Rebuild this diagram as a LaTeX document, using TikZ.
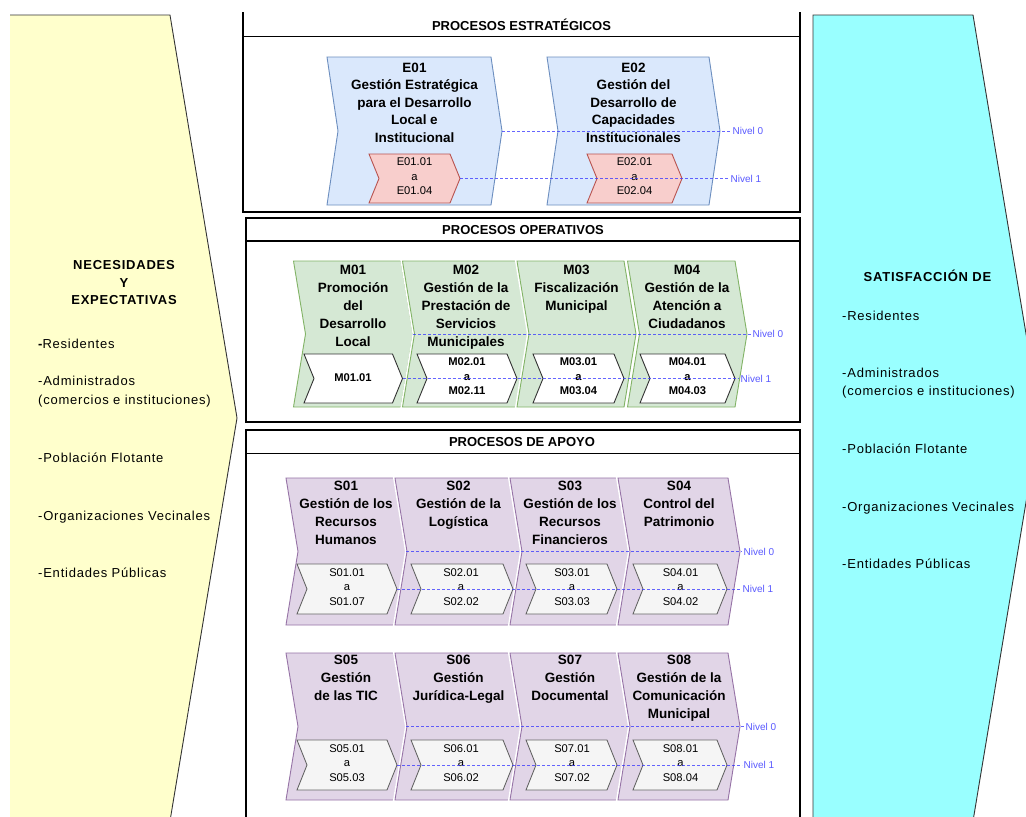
\documentclass[tikz,border=0pt]{standalone}
\usepackage{fontspec}
\setmainfont{Liberation Sans}
\newfontfamily\sidefont[LetterSpace=6]{Liberation Sans}

\definecolor{yel}{HTML}{FFFFCC}
\definecolor{cya}{HTML}{99FFFF}
\definecolor{efill}{HTML}{DAE8FC}
\definecolor{edraw}{HTML}{6C8EBF}
\definecolor{esfill}{HTML}{F8CECC}
\definecolor{esdraw}{HTML}{B85450}
\definecolor{mfill}{HTML}{D5E8D4}
\definecolor{mdraw}{HTML}{82B366}
\definecolor{msdraw}{HTML}{333333}
\definecolor{sfill}{HTML}{E1D5E7}
\definecolor{sdraw}{HTML}{9673A6}
\definecolor{ssfill}{HTML}{F5F5F5}
\definecolor{ssdraw}{HTML}{666666}
\definecolor{niv}{HTML}{3333FF}
\definecolor{nivtext}{HTML}{5A5AFF}

% step shape: left x, tip x, top y, bottom y, tip depth; the tip gets a coordinate
\newcommand\chevshape[7]{%
  \path[#7] (#2,#4) -- ({#3-#6},#4) -- (#3,{(#4+#5)/2}) -- ({#3-#6},#5)
    -- (#2,#5) -- ({#2+#6},{(#4+#5)/2}) -- cycle;
  \coordinate (#1) at (#3,{(#4+#5)/2});
}

\tikzset{
  sideline/.style={draw=black!80, line width=0.9pt},
  lane/.style={draw=black, line width=1.1pt},
  lanetitle/.style={font=\bfseries\fontsize{13}{15}\selectfont, inner sep=0pt},
  echev/.style={fill=efill, draw=edraw, line width=0.9pt},
  esub/.style={fill=esfill, draw=esdraw, line width=0.9pt},
  mchev/.style={fill=mfill, draw=mdraw, line width=0.9pt,
    preaction={draw=white, line width=4pt}},
  msub/.style={fill=white, draw=msdraw, line width=0.9pt},
  schev/.style={fill=sfill, draw=sdraw, line width=0.9pt,
    preaction={draw=white, line width=4pt}},
  ssub/.style={fill=ssfill, draw=ssdraw, line width=0.9pt},
  ttl/.style={font=\bfseries\fontsize{13.5}{#1}\selectfont, align=center,
    inner sep=0pt, anchor=north,
    execute at begin node=\strut, execute at end node=\strut},
  subtxt/.style={font=\fontsize{11.2}{14.5}\selectfont, align=center,
    inner sep=0pt, execute at begin node=\strut, execute at end node=\strut},
  subbold/.style={subtxt, font=\bfseries\fontsize{11.2}{14.5}\selectfont},
  nivline/.style={draw=niv, opacity=0.75, line width=0.8pt,
    dash pattern=on 3pt off 2pt},
  nivlabel/.style={text=nivtext, font=\fontsize{10}{12}\selectfont,
    inner sep=1.5pt, anchor=west},
  sidehead/.style={font=\sidefont\bfseries\fontsize{13}{17.5}\selectfont,
    align=center, inner sep=0pt, anchor=north,
    execute at begin node=\strut, execute at end node=\strut},
  sideitem/.style={font=\sidefont\fontsize{13}{16}\selectfont, inner sep=0pt,
    anchor=base west},
}

\begin{document}
\begin{tikzpicture}[x=1pt, y=-1pt]
\useasboundingbox (0,0) rectangle (1026,817);
\clip (0,0) rectangle (1026,817);
\fill[white] (0,0) rectangle (1026,817);

% ---------- side arrows ----------
\fill[yel] (10,15) -- (170,15) -- (237,418) -- (170,821) -- (10,821) -- cycle;
\draw[sideline] (10,15) -- (170,15) -- (237,418) -- (170,821);
\fill[cya] (813,15) -- (973,15) -- (1040,418) -- (973,821) -- (813,821) -- cycle;
\draw[sideline] (813,821) -- (813,15) -- (973,15) -- (1040,418) -- (973,821);

\node[sidehead] (nec) at (124,260.5) {NECESIDADES\\Y\\EXPECTATIVAS};
\node[sideitem] (nres) at (38,348.5) {\bfseries-\mdseries Residentes};
\node[sideitem] (nadm) at (38,385.5) {-Administrados};
\node[sideitem] (ncom) at (38,404.5) {(comercios e instituciones)};
\node[sideitem] (npob) at (38,462.5) {-Población Flotante};
\node[sideitem] (norg) at (38,520.5) {-Organizaciones Vecinales};
\node[sideitem] (nent) at (38,577.5) {-Entidades Públicas};

\node[sidehead] (sat) at (927.5,269.5) {SATISFACCIÓN DE};
\node[sideitem] (sres) at (842,320.5) {-Residentes};
\node[sideitem] (sadm) at (842,377.5) {-Administrados};
\node[sideitem] (scom) at (842,395.5) {(comercios e instituciones)};
\node[sideitem] (spob) at (842,453.5) {-Población Flotante};
\node[sideitem] (sorg) at (842,511.5) {-Organizaciones Vecinales};
\node[sideitem] (sent) at (842,568.5) {-Entidades Públicas};

% ---------- lanes ----------
\draw[lane] (243,12) -- (243,212) -- (800,212) -- (800,12);
\draw[lane] (243,36.5) -- (800,36.5);
\node[lanetitle] (pe) at (521.5,24.5) {PROCESOS ESTRATÉGICOS};

\draw[lane] (246,218) rectangle (800,422);
\draw[lane] (246,241) -- (800,241);
\node[lanetitle] (po) at (523,230) {PROCESOS OPERATIVOS};

\draw[lane] (246,840) -- (246,430) -- (800,430) -- (800,840);
\draw[lane] (246,453.5) -- (800,453.5);
\node[lanetitle] (pa) at (522,442.5) {PROCESOS DE APOYO};

% ---------- strategic processes ----------
\chevshape{e01}{327}{502}{57}{205}{11}{echev}
\chevshape{e02}{547}{720}{57}{205}{11}{echev}
\chevshape{e01s}{369}{460}{154}{203}{10}{esub}
\chevshape{e02s}{587}{682}{154}{203}{10}{esub}
\node[ttl=17.6] (e01t) at (414.5,62.5) {E01\\Gestión Estratégica\\para el Desarrollo\\Local e\\Institucional};
\node[ttl=17.6] (e02t) at (633.5,62.5) {E02\\Gestión del\\Desarrollo de\\Capacidades\\Institucionales};
\node[subtxt] (e01st) at (414.5,178.5) {E01.01\\a\\E01.04};
\node[subtxt] (e02st) at (634.5,178.5) {E02.01\\a\\E02.04};

\node[nivlabel] (en0) at (731,131) {Nivel 0};
\node[nivlabel] (en1) at (729,178.5) {Nivel 1};
\draw[nivline] (e01) -- (en0.west);
\draw[nivline] (e01s) -- (en1.west);

% ---------- operational processes ----------
\chevshape{m01}{293.5}{413}{261}{407}{12}{mchev}
\chevshape{m02}{402.5}{529}{261}{407}{12}{mchev}
\chevshape{m03}{517}{636}{261}{407}{12}{mchev}
\chevshape{m04}{627.5}{747}{261}{407}{12}{mchev}
\chevshape{m01s}{304}{402.5}{354}{403}{10}{msub}
\chevshape{m02s}{417}{517}{354}{403}{10}{msub}
\chevshape{m03s}{533}{624}{354}{403}{10}{msub}
\chevshape{m04s}{640}{735}{354}{403}{10}{msub}
\node[ttl=18] (m01t) at (353,265.2) {M01\\Promoción\\del\\Desarrollo\\Local};
\node[ttl=18] (m02t) at (466,265.2) {M02\\Gestión de la\\Prestación de\\Servicios\\Municipales};
\node[ttl=18] (m03t) at (576.5,265.2) {M03\\Fiscalización\\Municipal};
\node[ttl=18] (m04t) at (687,265.2) {M04\\Gestión de la\\Atención a\\Ciudadanos};
\node[subbold] (m01st) at (353,378.5) {M01.01};
\node[subbold] (m02st) at (467,378.5) {M02.01\\a\\M02.11};
\node[subbold] (m03st) at (578.5,378.5) {M03.01\\a\\M03.04};
\node[subbold] (m04st) at (687.5,378.5) {M04.01\\a\\M04.03};

\node[nivlabel] (mn0) at (751,334) {Nivel 0};
\node[nivlabel] (mn1) at (739,378.5) {Nivel 1};
\draw[nivline] (m01) -- (mn0.west);
\draw[nivline] (m01s) -- (mn1.west);

% ---------- support processes, first row ----------
\chevshape{s01}{286}{406}{478}{625}{12}{schev}
\chevshape{s02}{395}{522}{478}{625}{12}{schev}
\chevshape{s03}{510}{633}{478}{625}{12}{schev}
\chevshape{s04}{618}{740}{478}{625}{12}{schev}
\chevshape{s01s}{297}{397}{564}{614}{10}{ssub}
\chevshape{s02s}{411}{513}{564}{614}{10}{ssub}
\chevshape{s03s}{526}{617}{564}{614}{10}{ssub}
\chevshape{s04s}{633}{727}{564}{614}{10}{ssub}
\node[ttl=18] (s01t) at (346,481.2) {S01\\Gestión de los\\Recursos\\Humanos};
\node[ttl=18] (s02t) at (458.5,481.2) {S02\\Gestión de la\\Logística};
\node[ttl=18] (s03t) at (570,481.2) {S03\\Gestión de los\\Recursos\\Financieros};
\node[ttl=18] (s04t) at (679,481.2) {S04\\Control del\\Patrimonio};
\node[subtxt] (s01st) at (347,589) {S01.01\\a\\S01.07};
\node[subtxt] (s02st) at (461,589) {S02.01\\a\\S02.02};
\node[subtxt] (s03st) at (572,589) {S03.01\\a\\S03.03};
\node[subtxt] (s04st) at (680.5,589) {S04.01\\a\\S04.02};

\node[nivlabel] (sn0a) at (742,551.5) {Nivel 0};
\node[nivlabel] (sn1a) at (741,589) {Nivel 1};
\draw[nivline] (s01) -- (sn0a.west);
\draw[nivline] (s01s) -- (sn1a.west);

% ---------- support processes, second row ----------
\chevshape{s05}{286}{406}{653}{800}{12}{schev}
\chevshape{s06}{395}{522}{653}{800}{12}{schev}
\chevshape{s07}{510}{633}{653}{800}{12}{schev}
\chevshape{s08}{618}{740}{653}{800}{12}{schev}
\chevshape{s05s}{297}{397}{740}{790}{10}{ssub}
\chevshape{s06s}{411}{513}{740}{790}{10}{ssub}
\chevshape{s07s}{526}{617}{740}{790}{10}{ssub}
\chevshape{s08s}{633}{727}{740}{790}{10}{ssub}
\node[ttl=18] (s05t) at (346,655.2) {S05\\Gestión\\de las TIC};
\node[ttl=18] (s06t) at (458.5,655.2) {S06\\Gestión\\Jurídica-Legal};
\node[ttl=18] (s07t) at (570,655.2) {S07\\Gestión\\Documental};
\node[ttl=18] (s08t) at (679,655.2) {S08\\Gestión de la\\Comunicación\\Municipal};
\node[subtxt] (s05st) at (347,765) {S05.01\\a\\S05.03};
\node[subtxt] (s06st) at (461,765) {S06.01\\a\\S06.02};
\node[subtxt] (s07st) at (572,765) {S07.01\\a\\S07.02};
\node[subtxt] (s08st) at (680.5,765) {S08.01\\a\\S08.04};

\node[nivlabel] (sn0b) at (744,726.5) {Nivel 0};
\node[nivlabel] (sn1b) at (742,765) {Nivel 1};
\draw[nivline] (s05) -- (sn0b.west);
\draw[nivline] (s05s) -- (sn1b.west);
\end{tikzpicture}
\end{document}
